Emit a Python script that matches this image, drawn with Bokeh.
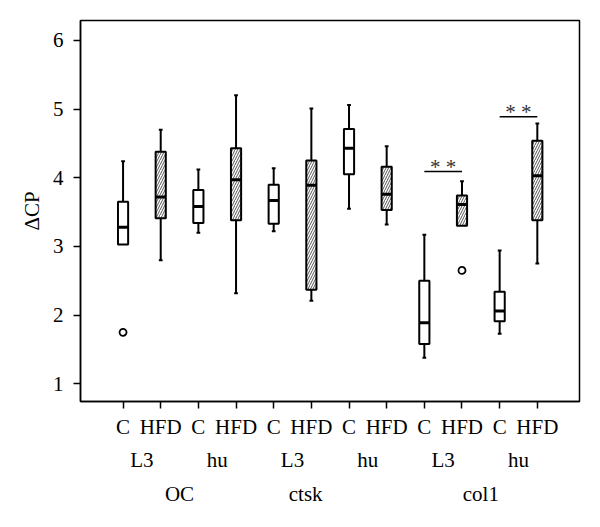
from bokeh.plotting import figure
from bokeh.models import (Range1d, FixedTicker, LinearAxis, ColumnDataSource)
from bokeh.core.properties import value
from bokeh.embed import file_html
from bokeh.resources import INLINE

# ---------------- data ----------------
genes = ["OC", "OC", "OC", "OC", "ctsk", "ctsk", "ctsk", "ctsk", "col1", "col1", "col1", "col1"]
sites = ["L3", "L3", "hu", "hu", "L3", "L3", "hu", "hu", "L3", "L3", "hu", "hu"]
diets = ["C", "HFD", "C", "HFD", "C", "HFD", "C", "HFD", "C", "HFD", "C", "HFD"]
whisker_low = [3.03, 2.80, 3.20, 2.32, 3.22, 2.21, 3.55, 3.32, 1.38, 3.30, 1.73, 2.75]
q1 =          [3.03, 3.41, 3.34, 3.38, 3.33, 2.37, 4.05, 3.53, 1.58, 3.30, 1.91, 3.38]
median =      [3.28, 3.72, 3.58, 3.97, 3.67, 3.89, 4.43, 3.76, 1.89, 3.61, 2.06, 4.03]
q3 =          [3.65, 4.38, 3.82, 4.43, 3.90, 4.25, 4.71, 4.16, 2.50, 3.74, 2.34, 4.54]
whisker_high = [4.24, 4.70, 4.12, 5.20, 4.14, 5.01, 5.06, 4.46, 3.17, 3.95, 2.94, 4.79]
outlier_box = [1, 10]          # 1-based box index
outlier_val = [1.75, 2.65]
sig_pairs = [(9, 10), (11, 12)]
sig_level = [4.09, 4.89]
sig_text = ["* *", "* *"]
y_ticks = [1, 2, 3, 4, 5, 6]

# ---------------- style ----------------
FONT = "Liberation Serif"
FS = "21px"
BOX_W = 0.27
CAP_W = 0.10
group_label_shift = {"OC": 0.0, "ctsk": -0.65, "col1": 0.0}

xs = list(range(1, len(diets) + 1))

p = figure(width=592, height=521, output_backend="svg", toolbar_location=None,
           x_range=Range1d(-0.13, 13.12), y_range=Range1d(0.742, 6.29),
           min_border_left=80, min_border_right=13, min_border_top=20, min_border_bottom=120)
p.grid.visible = False
p.outline_line_color = "black"
p.outline_line_width = 1.5
p.background_fill_color = "white"
p.border_fill_color = "white"

# boxes
hfd = [d == "HFD" for d in diets]
src_c = ColumnDataSource(dict(x=[x for x, h in zip(xs, hfd) if not h],
                              top=[v for v, h in zip(q3, hfd) if not h],
                              bottom=[v for v, h in zip(q1, hfd) if not h]))
src_h = ColumnDataSource(dict(x=[x for x, h in zip(xs, hfd) if h],
                              top=[v for v, h in zip(q3, hfd) if h],
                              bottom=[v for v, h in zip(q1, hfd) if h]))

# whiskers (drawn first so boxes cover them)
p.segment(x0=xs, y0=q3, x1=xs, y1=whisker_high, line_color="black", line_width=2)
p.segment(x0=[x - CAP_W / 2 for x in xs], y0=whisker_high,
          x1=[x + CAP_W / 2 for x in xs], y1=whisker_high, line_color="black", line_width=2)
low_idx = [i for i in range(len(xs)) if whisker_low[i] < q1[i]]
p.segment(x0=[xs[i] for i in low_idx], y0=[q1[i] for i in low_idx],
          x1=[xs[i] for i in low_idx], y1=[whisker_low[i] for i in low_idx],
          line_color="black", line_width=2)
p.segment(x0=[xs[i] - CAP_W / 2 for i in low_idx], y0=[whisker_low[i] for i in low_idx],
          x1=[xs[i] + CAP_W / 2 for i in low_idx], y1=[whisker_low[i] for i in low_idx],
          line_color="black", line_width=2)

p.vbar(x="x", top="top", bottom="bottom", width=BOX_W, source=src_c,
       fill_color="white", line_color="black", line_width=2)
p.vbar(x="x", top="top", bottom="bottom", width=BOX_W, source=src_h,
       fill_color="white", line_color="black", line_width=2,
       hatch_pattern="right_diagonal_line", hatch_color="#555555",
       hatch_scale=5, hatch_weight=1)

# medians
p.segment(x0=[x - BOX_W / 2 for x in xs], y0=median,
          x1=[x + BOX_W / 2 for x in xs], y1=median, line_color="black", line_width=3)

# outliers
p.scatter(x=outlier_box, y=outlier_val, marker="circle", size=7,
          fill_color=None, line_color="black", line_width=1.8)

# significance
p.segment(x0=[a for a, b in sig_pairs], y0=sig_level,
          x1=[b for a, b in sig_pairs], y1=sig_level, line_color="black", line_width=1.5)
p.text(x=[(a + b) / 2 for a, b in sig_pairs], y=sig_level, text=sig_text,
       text_font=value(FONT), text_font_size="21px", text_color="#333333",
       text_align="center", text_baseline="middle", y_offset=-5)

# y axis
p.yaxis.ticker = FixedTicker(ticks=y_ticks)
p.yaxis.minor_tick_line_color = None
p.yaxis.major_tick_out = 7
p.yaxis.major_tick_in = 0
p.yaxis.major_tick_line_width = 1.5
p.yaxis.axis_line_width = 1.5
p.yaxis.major_label_text_font = FONT
p.yaxis.major_label_text_font_size = FS
p.yaxis.major_label_text_color = "black"
p.yaxis.major_label_standoff = 10
p.yaxis.axis_label = "ΔCP"
p.yaxis.axis_label_text_font = FONT
p.yaxis.axis_label_text_font_size = FS
p.yaxis.axis_label_text_font_style = "normal"
p.yaxis.axis_label_text_color = "black"
p.yaxis.axis_label_standoff = 6

# x axis row 1: diets
p.xaxis.ticker = FixedTicker(ticks=xs)
p.xaxis.major_label_overrides = {x: d for x, d in zip(xs, diets)}
p.xaxis.minor_tick_line_color = None
p.xaxis.major_tick_out = 7
p.xaxis.major_tick_in = 0
p.xaxis.major_tick_line_width = 1.5
p.xaxis.axis_line_width = 1.5
p.xaxis.major_label_text_font = FONT
p.xaxis.major_label_text_font_size = FS
p.xaxis.major_label_text_color = "black"
p.xaxis.major_label_standoff = 6

# x axis row 2: sites
site_pos = [(xs[i] + xs[i + 1]) / 2 for i in range(0, len(xs), 2)]
site_lab = [sites[i] for i in range(0, len(xs), 2)]
ax2 = LinearAxis(ticker=FixedTicker(ticks=site_pos),
                 major_label_overrides={x: s for x, s in zip(site_pos, site_lab)})
# x axis row 3: genes
gene_names = []
for g in genes:
    if g not in gene_names:
        gene_names.append(g)
gene_pos = []
for g in gene_names:
    idx = [xs[i] for i in range(len(xs)) if genes[i] == g]
    gene_pos.append(sum(idx) / len(idx) + group_label_shift[g])
ax3 = LinearAxis(ticker=FixedTicker(ticks=gene_pos),
                 major_label_overrides={x: g for x, g in zip(gene_pos, gene_names)})
for ax, st in ((ax2, 6), (ax3, 7)):
    ax.axis_line_color = None
    ax.major_tick_line_color = None
    ax.minor_tick_line_color = None
    ax.major_tick_out = 0
    ax.major_tick_in = 0
    ax.major_label_text_font = FONT
    ax.major_label_text_font_size = FS
    ax.major_label_text_color = "black"
    ax.major_label_standoff = st
    p.add_layout(ax, "below")

open("out.html", "w").write(file_html(p, INLINE))
